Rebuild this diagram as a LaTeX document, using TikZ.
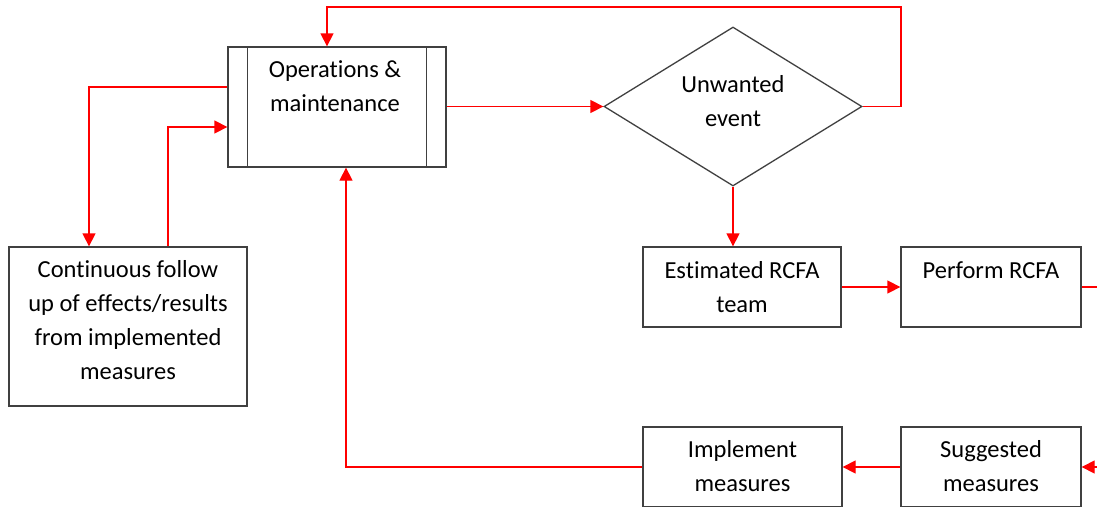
\documentclass[tikz,border=0pt]{standalone}
\usepackage{fontspec}
\setmainfont{Carlito}[Ligatures=NoCommon]
\usetikzlibrary{arrows.meta,shapes.geometric}
\definecolor{boxline}{RGB}{64,64,64}
\definecolor{flowred}{RGB}{255,0,0}
\tikzset{
  stepbox/.style={draw=boxline, line width=1.3pt, fill=white, inner sep=0pt, rectangle},
  decision/.style={draw=boxline, line width=1.3pt, fill=white, diamond, inner sep=0pt},
  boxtext/.style={inner sep=0pt, align=center, anchor=north,
    font=\fontsize{24.5}{33.7}\selectfont, text=black},
  flow/.style={draw=flowred, line width=1.3pt, -{Triangle[length=13pt,width=13pt]}},
  flowplain/.style={draw=flowred, line width=1.3pt},
}
\begin{document}
\begin{tikzpicture}[x=1pt, y=-1pt]
  \useasboundingbox (0,0) rectangle (1097,506);
  \clip (0,0) rectangle (1097,506);

  % process boxes
  \node[stepbox, minimum width=218pt, minimum height=120pt] (ops) at (337,107) {};
  \draw[boxline, line width=1.5pt] ([xshift=20pt]ops.north west) -- ([xshift=20pt]ops.south west);
  \draw[boxline, line width=1.5pt] ([xshift=-20pt]ops.north east) -- ([xshift=-20pt]ops.south east);
  \node[boxtext] (opst) at (335,54.2) {\strut Operations \&\\maintenance};

  \node[stepbox, minimum width=238pt, minimum height=159pt] (cont) at (128,326.5) {};
  \node[boxtext] (contt) at (128,254.2) {\strut Continuous follow\\up of effects/results\\from implemented\\measures};

  \node[decision, minimum width=258pt, minimum height=159pt, aspect=1.62] (dia) at (733,106.5) {};
  \node[boxtext] (diat) at (733,69.2) {\strut Unwanted\\event};

  \node[stepbox, minimum width=198pt, minimum height=80pt] (est) at (742,287) {};
  \node[boxtext] (estt) at (742,255.2) {\strut Estimated RCFA\\team};

  \node[stepbox, minimum width=180pt, minimum height=80pt] (perf) at (991,287) {};
  \node[boxtext] (perft) at (991,255.2) {\strut Perform RCFA};

  \node[stepbox, minimum width=199pt, minimum height=80pt] (impl) at (742.5,467) {};
  \node[boxtext] (implt) at (742.5,434.2) {\strut Implement\\measures};

  \node[stepbox, minimum width=180pt, minimum height=80pt] (sugg) at (991,467) {};
  \node[boxtext] (suggt) at (991,434.2) {\strut Suggested\\measures};

  % loose ends running past the right edge
  \coordinate (outR) at (1105,287);
  \coordinate (inR) at (1105,467);
  \coordinate (topR) at (901,7);

  % connectors
  \draw[flow] (ops.east |- dia.west) -- (dia.west);
  \draw[flow] (dia.east) -| (topR) -| ([xshift=-10pt]ops.north);
  \draw[flow] ([yshift=20pt]ops.west) -| ([xshift=-39pt]cont.north);
  \draw[flow] ([xshift=40pt]cont.north) |- ([yshift=-20pt]ops.west);
  \draw[flow] (dia.south) -- (dia.south |- est.north);
  \draw[flow] (est.east) -- (perf.west);
  \draw[flowplain] (perf.east) -- (outR);
  \draw[flow] (inR) -- (sugg.east);
  \draw[flow] (sugg.west) -- (impl.east);
  \draw[flow] (impl.west) -| ([xshift=9pt]ops.south);
\end{tikzpicture}
\end{document}
